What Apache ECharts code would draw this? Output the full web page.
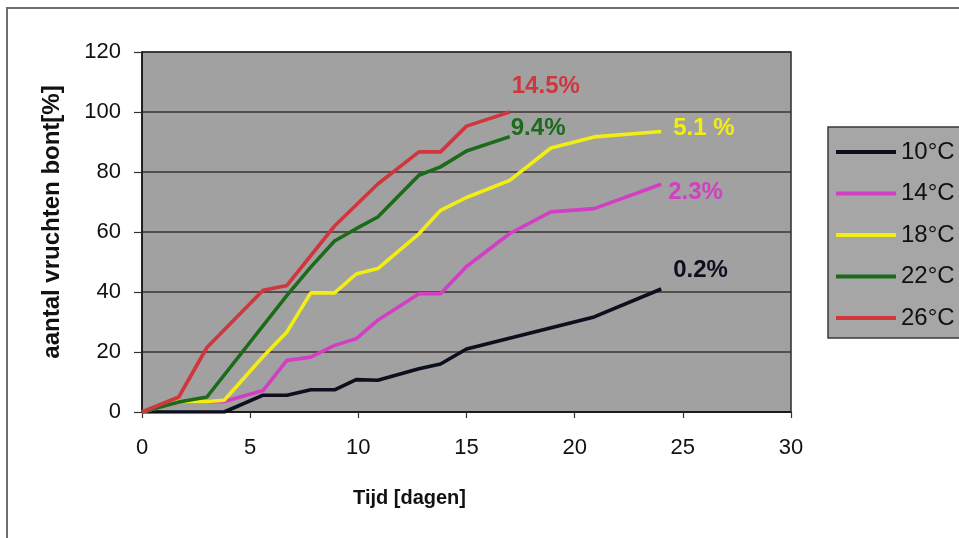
<!DOCTYPE html>
<html>
<head>
<meta charset="utf-8">
<script src="https://cdn.jsdelivr.net/npm/echarts@6/dist/echarts.min.js"></script>
<style>
  html, body { margin: 0; padding: 0; background: #ffffff; }
  #wrap { position: relative; width: 959px; height: 538px; }
  #chart { position: absolute; left: 0; top: 0; width: 959px; height: 538px; }
  #frame { position: absolute; left: 6px; top: 7px; right: 0; bottom: 0;
           border-left: 2px solid #6e6e6e; border-top: 2px solid #6e6e6e;
           pointer-events: none; }
</style>
</head>
<body>
<div id="wrap">
  <div id="chart"></div>
  <div id="frame"></div>
</div>
<script>
// Sampling days (x axis)
const days = [0, 1.7, 3, 3.8, 5.6, 6.7, 7.8, 8.9, 9.9, 10.9, 12.8, 13.8, 15, 17, 18.9, 20.9, 24];

// Percentage of coloured fruit per storage temperature (null = no observation)
const t10 = [0, 0, null, 0, 5.6, 5.6, 7.4, 7.4, 10.8, 10.6, 14.4, 16, 21, null, null, 31.7, 41];
const t14 = [0, 3.5, 3.5, 3.5, 7.2, 17.2, 18.3, 22.2, 24.4, 30.6, 39.4, 39.4, 48.5, 59.5, 66.7, 67.8, 75.9];
const t18 = [0, 3.5, 3.5, 3.9, 18.5, 26.7, 39.7, 39.7, 46, 47.8, 59.4, 67.2, 71.5, 77.2, 88, 91.7, 93.5];
const t22 = [0, 3.3, 5, null, null, 38.9, 48.3, 57, 61.1, 65, 78.9, 81.7, 87, 91.8, null, null, null];
const t26 = [0, 5, 21.5, null, 40.6, 42.2, null, 62, null, 76, 86.7, 86.7, 95.3, 100, null, null, null];

const seriesNames = ['10°C', '14°C', '18°C', '22°C', '26°C'];
const seriesValues = [t10, t14, t18, t22, t26];
const endNotes = ['0.2%', '2.3%', '5.1 %', '9.4%', '14.5%'];

const yTicks = [0, 20, 40, 60, 80, 100, 120];
const xTicks = [0, 5, 10, 15, 20, 25, 30];

const colors = ['#0e0e1e', '#d23fc4', '#f2ee14', '#1b6b1b', '#d0363e'];
// End-note placement: [distance from the last point, vertical offset]
const notePlace = [[12, -19], [7, 8], [12, -3], [1, -8], [2, -26]];

const FONT = "Arial, 'Liberation Sans', sans-serif";

function pairs(vals) {
  const out = [];
  vals.forEach((v, i) => { if (v !== null) out.push([days[i], v]); });
  return out;
}

const series = seriesNames.map((name, k) => ({
  name: name,
  type: 'line',
  data: pairs(seriesValues[k]),
  showSymbol: false,
  symbol: 'none',
  color: colors[k],
  lineStyle: { color: colors[k], width: 3.6 },
  z: 3 + k,
  endLabel: {
    show: true,
    formatter: () => endNotes[k],
    color: colors[k],
    fontFamily: FONT,
    fontWeight: 'bold',
    fontSize: 24,
    distance: notePlace[k][0],
    offset: [0, notePlace[k][1]]
  }
}));

const chart = echarts.init(document.getElementById('chart'), null, { renderer: 'canvas' });
chart.setOption({
  animation: false,
  backgroundColor: '#ffffff',
  textStyle: { fontFamily: FONT },
  grid: {
    left: 142, right: 168, top: 52, bottom: 126,
    show: true, backgroundColor: '#a1a1a1',
    borderColor: '#2e2e2e', borderWidth: 1.5
  },
  legend: {
    orient: 'vertical',
    left: 828, top: 127,
    data: seriesNames,
    icon: 'rect',
    itemWidth: 60, itemHeight: 4,
    itemGap: 17.5,
    itemTextGap: 5,
    padding: [13, 30, 8, 8],
    backgroundColor: '#a6a6a6',
    borderColor: '#3a3a3a', borderWidth: 1.5,
    textStyle: { color: '#111', fontSize: 24, lineHeight: 24, fontFamily: FONT }
  },
  xAxis: {
    type: 'value',
    min: 0, max: 30, interval: 5,
    name: 'Tijd [dagen]',
    nameLocation: 'middle',
    nameGap: 76,
    nameTextStyle: { color: '#111', fontWeight: 'bold', fontSize: 20, fontFamily: FONT, padding: [0, 114, 0, 0] },
    axisLine: { show: true, lineStyle: { color: '#111', width: 1.5 } },
    axisTick: { show: true, inside: false, length: 6, lineStyle: { color: '#333', width: 1.2 } },
    axisLabel: {
      color: '#111', fontSize: 22, margin: 25, fontFamily: FONT,
      formatter: v => (xTicks.indexOf(v) >= 0 ? String(v) : '')
    },
    splitLine: { show: false }
  },
  yAxis: {
    type: 'value',
    min: 0, max: 120, interval: 20,
    name: 'aantal vruchten bont[%]',
    nameLocation: 'middle',
    nameGap: 78,
    nameTextStyle: { color: '#111', fontWeight: 'bold', fontSize: 24, fontFamily: FONT, padding: [0, 0, 0, 20] },
    axisLine: { show: true, lineStyle: { color: '#111', width: 1.5 } },
    axisTick: { show: true, inside: false, length: 8, lineStyle: { color: '#333', width: 1.2 } },
    axisLabel: {
      color: '#111', fontSize: 22, margin: 21, fontFamily: FONT,
      formatter: v => (yTicks.indexOf(v) >= 0 ? String(v) : '')
    },
    splitLine: { show: true, lineStyle: { color: '#3c3030', width: 1.6 } }
  },
  series: series
});
</script>
</body>
</html>
